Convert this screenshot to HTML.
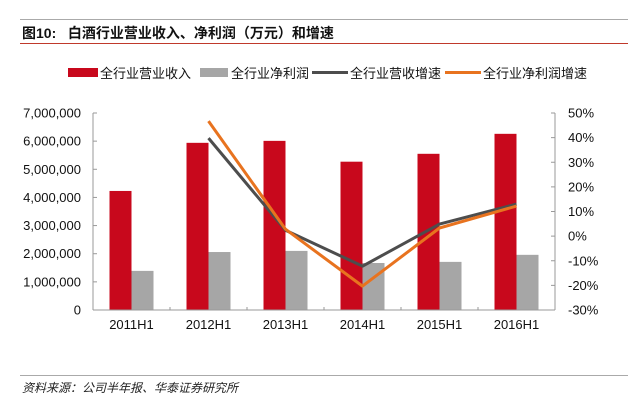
<!DOCTYPE html>
<html><head><meta charset="utf-8"><style>
body{margin:0;background:#fff;width:640px;height:406px;overflow:hidden;font-family:"Liberation Sans","Noto Sans CJK SC",sans-serif}
</style></head><body>
<svg width="640" height="406" xmlns="http://www.w3.org/2000/svg">
<line x1="20" y1="19.5" x2="628" y2="19.5" stroke="#aaa" stroke-width="1"/>
<text x="22" y="38" font-size="14" font-weight="bold" fill="#111">图10:&#160;&#160;&#160;白酒行业营业收入、净利润（万元）和增速</text>
<line x1="20" y1="43.5" x2="628" y2="43.5" stroke="#c0392b" stroke-width="1"/>
<g id="legend" font-size="13" fill="#111">
<rect x="68" y="68" width="30" height="9" fill="#c8081c"/>
<text x="100" y="78">全行业营业收入</text>
<rect x="200" y="68" width="28" height="9" fill="#a6a6a6"/>
<text x="231" y="78">全行业净利润</text>
<line x1="312" y1="72.5" x2="348" y2="72.5" stroke="#4d4d4d" stroke-width="3"/>
<text x="350" y="78">全行业营收增速</text>
<line x1="445" y1="72.5" x2="481" y2="72.5" stroke="#e8731f" stroke-width="3"/>
<text x="483" y="78">全行业净利润增速</text>
</g>
<g id="plot"></g>
<line x1="20" y1="375.5" x2="628" y2="375.5" stroke="#aaa" stroke-width="1"/>
<text x="22" y="392" font-size="12" font-style="italic" fill="#222">资料来源：公司半年报、华泰证券研究所</text>
</svg>
<script>
const categories=["2011H1","2012H1","2013H1","2014H1","2015H1","2016H1"];
const revenue=[4230000,5940000,6010000,5270000,5550000,6260000];
const profit=[1390000,2060000,2100000,1670000,1710000,1960000];
const revenueGrowth=[null,39.8,2.4,-12.2,4.9,13.0];
const profitGrowth=[null,46.7,2.8,-20.3,3.3,12.2];
const leftTicks=[0,1000000,2000000,3000000,4000000,5000000,6000000,7000000];
const rightTicks=[-30,-20,-10,0,10,20,30,40,50];

const NS="http://www.w3.org/2000/svg";
const g=document.getElementById('plot');
const X0=93,X1=555,Y0=310,Y1=113;
const band=(X1-X0)/categories.length;
const yL=v=>Y0-(v/7000000)*(Y0-Y1);
const yR=v=>Y0-((v+30)/80)*(Y0-Y1);
const cx=i=>X0+band*(i+0.5);
function mk(t,a){const e=document.createElementNS(NS,t);for(const k in a)e.setAttribute(k,a[k]);g.appendChild(e);return e;}
// axes
let e=mk('line',{x1:X0,y1:Y1,x2:X0,y2:Y0,stroke:'#999'});


e=mk('line',{x1:X1,y1:Y1,x2:X1,y2:Y0,stroke:'#999'});


leftTicks.forEach(v=>{
 const y=yL(v);
 const t=mk('line',{x1:X0,y1:y,x2:X0+4,y2:y,stroke:'#999'});
 
 
 const l=mk('text',{x:81,y:y+4.5,'font-size':13,'text-anchor':'end',fill:'#111'});
 l.textContent=v.toLocaleString('en-US');
 
 
});
rightTicks.forEach(v=>{
 const y=yR(v);
 const t=mk('line',{x1:X1-4,y1:y,x2:X1,y2:y,stroke:'#999'});
 
 
 const l=mk('text',{x:568,y:y+4.5,'font-size':13,fill:'#111'});
 l.textContent=v+'%';
 
 
});
categories.forEach((c,i)=>{
 const r=mk('rect',{x:cx(i)-22,y:yL(revenue[i]),width:22,height:Y0-yL(revenue[i]),fill:'#c8081c'});
 
 
 const p=mk('rect',{x:cx(i),y:yL(profit[i]),width:22,height:Y0-yL(profit[i]),fill:'#a6a6a6'});
 
 
 const tk=mk('line',{x1:X0+band*(i+1),y1:Y0,x2:X0+band*(i+1),y2:Y0-3,stroke:'#999'});
 
 
 const l=mk('text',{x:cx(i),y:329,'font-size':13,'text-anchor':'middle',fill:'#111'});
 l.textContent=c;
 
 
});
e=mk('line',{x1:X0,y1:Y0,x2:X1,y2:Y0,stroke:'#999'});


function line(arr,color,name){
 const pts=[];arr.forEach((v,i)=>{if(v!==null)pts.push(cx(i)+','+yR(v));});
 const pl=mk('polyline',{points:pts.join(' '),fill:'none',stroke:color,'stroke-width':3,'stroke-linejoin':'round'});
 
 
}
line(revenueGrowth,'#4d4d4d','revenue-growth-line');
line(profitGrowth,'#e8731f','profit-growth-line');
</script>
</body></html>
